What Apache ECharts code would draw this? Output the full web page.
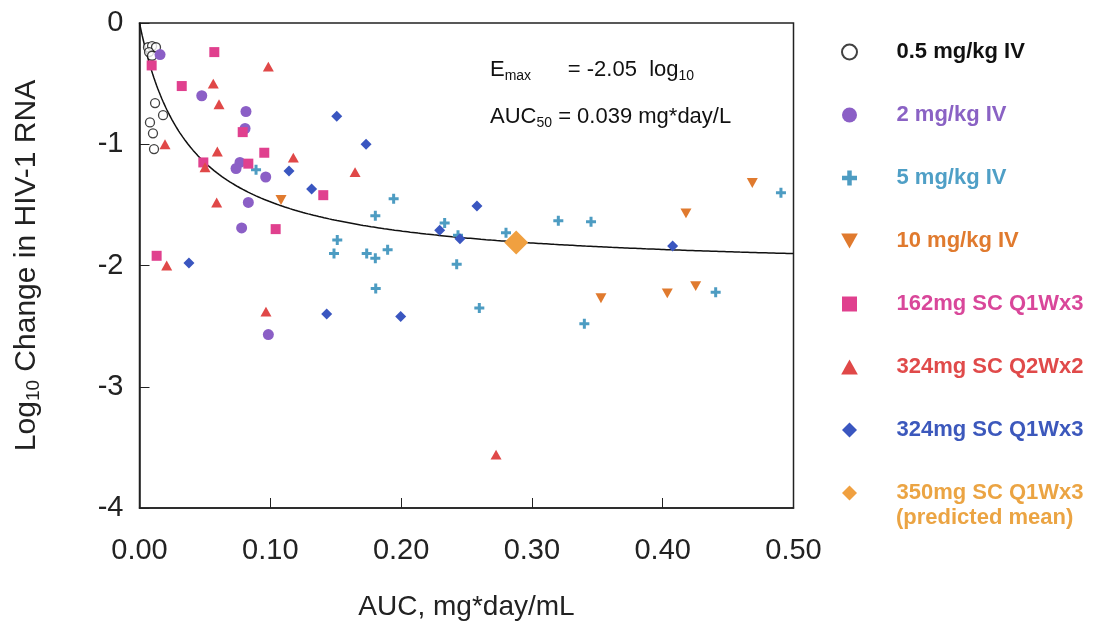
<!DOCTYPE html>
<html>
<head>
<meta charset="utf-8">
<script src="https://cdn.jsdelivr.net/npm/echarts@6/dist/echarts.min.js"></script>
<style>html,body{margin:0;padding:0;background:#fff}#c{width:1112px;height:626px}</style>
</head>
<body>
<div id="c"></div>
<script>
// ---- data (AUC mg*day/mL, log10 change) ----
const iv05 = [[0.0065,-0.20],[0.0096,-0.19],[0.0126,-0.20],[0.0073,-0.24],[0.0096,-0.27],
  [0.0119,-0.66],[0.018,-0.76],[0.008,-0.82],[0.0103,-0.91],[0.0111,-1.04]];
const iv2 = [[0.0157,-0.26],[0.0476,-0.60],[0.0814,-0.73],[0.0807,-0.87],[0.0768,-1.15],
  [0.0738,-1.20],[0.0965,-1.27],[0.0832,-1.48],[0.0781,-1.69],[0.0985,-2.57]];
const iv5 = [[0.0891,-1.21],[0.1943,-1.45],[0.1803,-1.59],[0.1512,-1.79],[0.1487,-1.90],
  [0.1737,-1.90],[0.1803,-1.94],[0.1897,-1.87],[0.1806,-2.19],[0.2333,-1.65],[0.2435,-1.75],
  [0.2425,-1.99],[0.2802,-1.73],[0.2598,-2.35],[0.3202,-1.63],[0.3452,-1.64],[0.4904,-1.40],
  [0.4405,-2.22],[0.3401,-2.48]];
const iv10 = [[0.1082,-1.46],[0.4685,-1.32],[0.4178,-1.57],[0.3528,-2.27],[0.4035,-2.23],[0.4252,-2.17]];
const sc162 = [[0.0572,-0.24],[0.0093,-0.35],[0.0323,-0.52],[0.0789,-0.90],[0.0954,-1.07],
  [0.0488,-1.15],[0.0832,-1.16],[0.1405,-1.42],[0.1041,-1.70],[0.0131,-1.92]];
const sc324q2 = [[0.0985,-0.36],[0.0564,-0.50],[0.0608,-0.67],[0.0195,-1.00],[0.0595,-1.06],
  [0.1176,-1.11],[0.0501,-1.19],[0.059,-1.48],[0.0208,-2.00],[0.0967,-2.38],[0.1648,-1.23],[0.2726,-3.56]];
const sc324q1 = [[0.1143,-1.22],[0.1316,-1.37],[0.0378,-1.98],[0.1431,-2.40],[0.1508,-0.77],
  [0.1732,-1.00],[0.258,-1.51],[0.2295,-1.71],[0.245,-1.78],[0.1997,-2.42],[0.4076,-1.84]];
const sc350 = [[0.288,-1.81]];
const emax = -2.05, auc50 = 0.039; // fitted Emax model parameters (as annotated)
const seriesNames = ['0.5 mg/kg IV','2 mg/kg IV','5 mg/kg IV','10 mg/kg IV','162mg SC Q1Wx3',
  '324mg SC Q2Wx2','324mg SC Q1Wx3','350mg SC Q1Wx3'];

const fitCurve = [];
for (let i = 0; i <= 500; i++) { const x = i * 0.001; fitCurve.push([x, emax * x / (auc50 + x)]); }

const FONT = '"Liberation Sans", Arial, sans-serif';
const plus = 'path://M3.5,0H6.5V3.5H10V6.5H6.5V10H3.5V6.5H0V3.5H3.5Z';
const downTri = 'path://M0,0L10,0L5,9Z';
const upTri = 'path://M5,0L10,9L0,9Z';
const square = 'path://M0,0H10V10H0Z';
const diamond = 'path://M5,0L10,5L5,10L0,5Z';
const textColors = ['#111','#8a62c4','#4f9fc6','#e07a2e','#d9479a','#e04a4a','#3c58bc','#eba443'];

const chart = echarts.init(document.getElementById('c'), null, {renderer:'canvas'});
function sc(name, data, symbol, size, color, extra) {
  return Object.assign({type:'scatter', name, data, symbol, symbolSize:size, symbolKeepAspect:true,
    itemStyle:{color, opacity:1}, z:3}, extra || {});
}
chart.setOption({
  animation:false,
  grid:{left:139.5, right:318.5, top:23, bottom:117, show:true, borderColor:'#222', borderWidth:1.5},
  xAxis:{type:'value', min:0, max:0.5, interval:0.1,
    axisLine:{onZero:false, lineStyle:{color:'#222', width:1.5}},
    axisTick:{inside:true, length:10, lineStyle:{color:'#222'}},
    splitLine:{show:false},
    axisLabel:{fontFamily:FONT, fontSize:29, color:'#222', margin:28, formatter:v=>v.toFixed(2)},
    name:'AUC, mg*day/mL', nameLocation:'middle', nameGap:85,
    nameTextStyle:{fontFamily:FONT, fontSize:28, color:'#222'}},
  yAxis:{type:'value', min:-4, max:0, interval:1,
    axisLine:{onZero:false, lineStyle:{color:'#222', width:1.5}},
    axisTick:{inside:true, length:10, lineStyle:{color:'#222'}},
    splitLine:{show:false},
    axisLabel:{fontFamily:FONT, fontSize:29, color:'#222', margin:16},
    name:'{n|Log}{s|10}{n| Change in HIV-1 RNA}', nameLocation:'middle', nameGap:96, nameRotate:90,
    nameTextStyle:{fontFamily:FONT, color:'#222',
      rich:{n:{fontFamily:FONT, fontSize:30, color:'#222'},
            s:{fontFamily:FONT, fontSize:19, color:'#222', padding:[14,0,0,0]}}}},
  legend:{orient:'vertical', left:836, top:34, itemWidth:84, itemHeight:15, itemGap:37,
    selectedMode:false, symbolKeepAspect:true,
    textStyle:{fontFamily:FONT, fontSize:22, fontWeight:'bold', lineHeight:26},
    data:seriesNames.map((n,i)=>({name:n, textStyle:{color:textColors[i]}}))},
  graphic:[
    {type:'text', left:896, top:507, style:{text:'(predicted mean)', fontFamily:FONT, fontSize:22,
      fontWeight:'bold', fill:textColors[7]}},
    {type:'text', left:490, top:59, style:{text:'{n|E}{s|max}{n|      = -2.05  log}{s|10}',
      rich:{n:{fontFamily:FONT, fontSize:22, fill:'#111'}, s:{fontFamily:FONT, fontSize:14, fill:'#111', padding:[12,0,0,0]}}}},
    {type:'text', left:490, top:106, style:{text:'{n|AUC}{s|50}{n| = 0.039 mg*day/L}',
      rich:{n:{fontFamily:FONT, fontSize:22, fill:'#111'}, s:{fontFamily:FONT, fontSize:14, fill:'#111', padding:[12,0,0,0]}}}}
  ],
  series:[
    sc(seriesNames[0], iv05, 'circle', 9, '#fff', {itemStyle:{color:'#fff', borderColor:'#111', borderWidth:1.3}}),
    sc(seriesNames[1], iv2, 'circle', 11, '#8b5fc6'),
    sc(seriesNames[2], iv5, plus, 10, '#4d9cc2'),
    sc(seriesNames[3], iv10, downTri, 11, '#e07a2e'),
    sc(seriesNames[4], sc162, square, 10, '#e0408e'),
    sc(seriesNames[5], sc324q2, upTri, 11, '#e04848'),
    sc(seriesNames[6], sc324q1, diamond, 11, '#3a56c0'),
    sc(seriesNames[7], sc350, diamond, 24, '#f0a040'),
    {type:'line', name:'fit', data:fitCurve, showSymbol:false, smooth:false, z:2,
     lineStyle:{color:'#111', width:1.5}, silent:true}
  ]
});
</script>
</body>
</html>
